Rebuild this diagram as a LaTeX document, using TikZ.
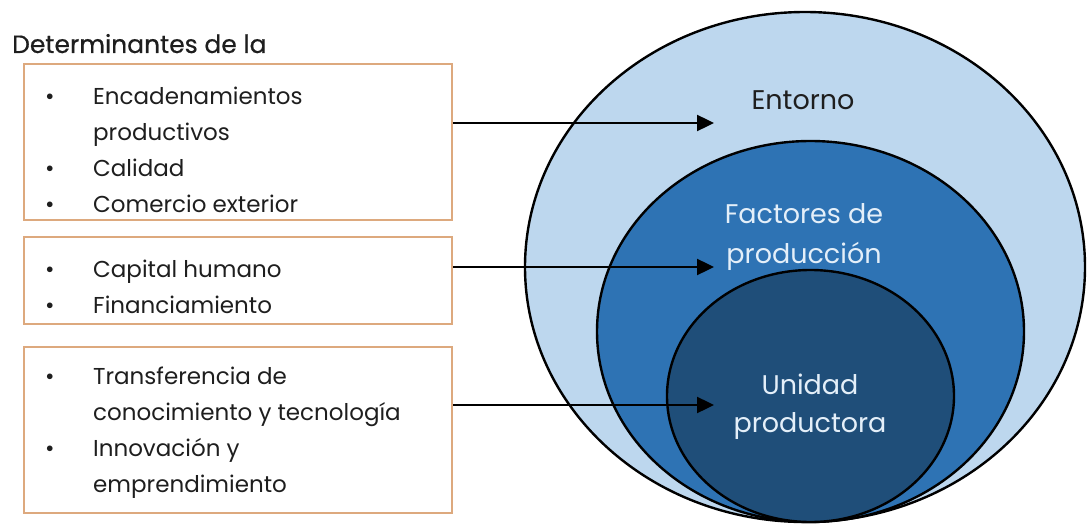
\documentclass[tikz,border=0pt]{standalone}
\usepackage{fontspec}
\setmainfont{Poppins}
\usepackage{xcolor}
\usepackage{tikz}
\usetikzlibrary{arrows.meta}

\definecolor{azulclaro}{HTML}{BDD7EE}
\definecolor{azulmedio}{HTML}{2E73B4}
\definecolor{azuloscuro}{HTML}{1F4E79}
\definecolor{borde}{HTML}{DDA97E}
\definecolor{letraclara}{HTML}{E4EFF9}
\definecolor{letra}{HTML}{1E1E1E}

\tikzset{
  caja/.style={draw=borde, line width=2.2pt, inner sep=0pt},
  lista/.style={anchor=north west, inner sep=0pt, text=letra, font=\fontsize{23}{36}\selectfont},
  flecha/.style={line width=2.4pt, -{Triangle[length=17pt,width=16pt]}},
  capa/.style={draw=black, line width=2.4pt},
  rotulo/.style={align=center, anchor=base, inner sep=0pt, font=\fontsize{27}{40}\selectfont}
}

\newcommand{\punto}{\hspace{5pt}\textbullet}

\begin{document}
\begin{tikzpicture}[x=1pt,y=-1pt]
\useasboundingbox (0,0) rectangle (1087,524);

% circulos
\filldraw[capa, fill=azulclaro] (805,267) ellipse (280 and 255);
\filldraw[capa, fill=azulmedio] (810.5,331.5) ellipse (213.5 and 190.5);
\filldraw[capa, fill=azuloscuro] (810.5,396) ellipse (143.5 and 126);

\node[rotulo, text=letra] (entorno) at (803,110) {Entorno};
\node[rotulo, text=letraclara] (factores) at (804,263) {Factores de\\producción};
\node[rotulo, text=letraclara, font=\fontsize{27}{38}\selectfont] (unidad) at (810,432) {Unidad\\productora};

% titulo
\node[anchor=base west, inner sep=0pt, text=letra, font=\fontsize{25}{30}\selectfont\addfontfeatures{FakeBold=0.6}] (titulo) at (12,53) {Determinantes de la};

% cajas
\node[caja, minimum width=428pt, minimum height=156pt] (b1) at (238,142) {};
\node[caja, minimum width=428pt, minimum height=87pt] (b2) at (238,280.5) {};
\node[caja, minimum width=428pt, minimum height=166pt] (b3) at (238,430) {};

\node[lista] (l1) at (40,79) {\begin{tabular}{@{}p{53pt}@{}l@{}}
\punto & Encadenamientos\\
 & productivos\\
\punto & Calidad\\
\punto & Comercio exterior
\end{tabular}};
\node[lista] (l2) at (40,252) {\begin{tabular}{@{}p{53pt}@{}l@{}}
\punto & Capital humano\\
\punto & Financiamiento
\end{tabular}};
\node[lista] (l3) at (40,359) {\begin{tabular}{@{}p{53pt}@{}l@{}}
\punto & Transferencia de\\
 & conocimiento y tecnología\\
\punto & Innovación y\\
 & emprendimiento
\end{tabular}};

% flechas
\coordinate (p1) at (714,123);
\coordinate (p2) at (714,267);
\coordinate (p3) at (714,405);
\draw[flecha] (b1.east |- p1) -- (p1);
\draw[flecha] (b2.east |- p2) -- (p2);
\draw[flecha] (b3.east |- p3) -- (p3);
\end{tikzpicture}
\end{document}
